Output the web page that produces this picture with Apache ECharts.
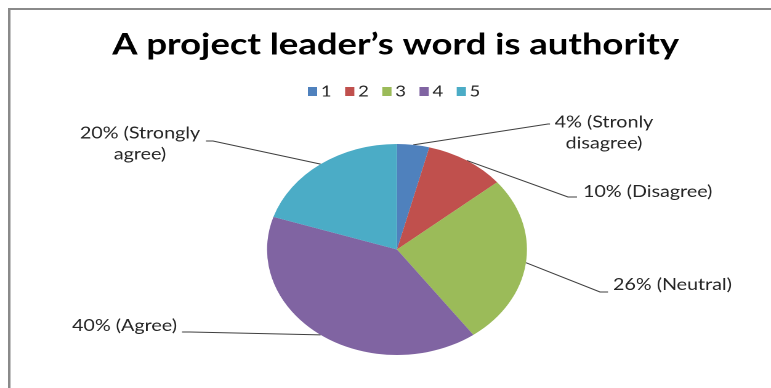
<!DOCTYPE html>
<html>
<head>
<meta charset="utf-8">
<script src="https://cdn.jsdelivr.net/npm/echarts@6/dist/echarts.min.js"></script>
<style>
  html, body { margin: 0; padding: 0; background: #fff; overflow: hidden; }
  /* the chart is laid out narrower and widened, which gives the oval pie */
  #chart { width: 626px; height: 388px; transform: scaleX(1.2316); transform-origin: 0 0; }
</style>
</head>
<body>
<div id="chart"></div>
<script>
// Survey answers on a 1–5 scale, share of respondents in percent
const categories = ['1', '2', '3', '4', '5'];
const shares = [4, 10, 26, 40, 20];
const answerNames = ['Stronly\ndisagree', 'Disagree', 'Neutral', 'Agree', 'Strongly\nagree'];
const sliceColors = ['#4F81BD', '#C0504D', '#9BBB59', '#8064A2', '#4BACC6'];

// horizontal stretch applied to the chart box
const SX = 771 / 626;

// Label spots and leader-line bends, in page pixels
const labelSpots = [
  { x: 604, y: 133, align: 'center', bend: [548, 124], end: [550, 124] },
  { x: 583, y: 192, align: 'left',   bend: [568, 197], end: [577, 197] },
  { x: 613, y: 285, align: 'left',   bend: [600, 292], end: [608, 292] },
  { x: 177, y: 326, align: 'right',  bend: [190, 332], end: [182, 332] },
  { x: 140, y: 144, align: 'center', bend: [213, 141], end: [206, 141] }
];

const PIE_CENTER = [397 / SX, 249.5];
const PIE_RADIUS = 105.5;

const chart = echarts.init(document.getElementById('chart'), null, {
  renderer: 'canvas', devicePixelRatio: 2
});

chart.setOption({
  animation: false,
  backgroundColor: '#ffffff',
  title: {
    text: 'A project leader\u2019s word is authority',
    left: 389.5 / SX,
    textAlign: 'center',
    top: 25,
    textStyle: { fontFamily: 'Lato', fontWeight: 'bold', fontSize: 29.6, color: '#000' }
  },
  legend: {
    data: categories,
    left: 245,
    top: 79,
    icon: 'rect',
    itemWidth: 7.5,
    itemHeight: 9,
    itemGap: 11,
    textStyle: { fontFamily: 'Lato', fontSize: 15, color: '#262626', padding: [0, 0, 0, -2] }
  },
  graphic: [{
    type: 'rect',
    shape: { x: 7.5, y: 9, width: 700, height: 420 },
    style: { fill: null, stroke: '#8a8a8a', lineWidth: 2 },
    silent: true
  }],
  series: [{
    type: 'pie',
    center: PIE_CENTER,
    radius: PIE_RADIUS,
    startAngle: 90,
    clockwise: true,
    avoidLabelOverlap: false,
    emphasis: { disabled: true },
    data: categories.map((name, i) => ({
      name: name,
      value: shares[i],
      itemStyle: { color: sliceColors[i] }
    })),
    itemStyle: { borderWidth: 0 },
    label: {
      show: true,
      position: 'outside',
      formatter: p => p.value + '% (' + answerNames[p.dataIndex] + ')',
      fontFamily: 'Lato',
      fontSize: 16,
      lineHeight: 21,
      color: '#262626'
    },
    labelLine: {
      show: true,
      smooth: false,
      lineStyle: { color: '#404040', width: 1 }
    },
    labelLayout: function (params) {
      const s = labelSpots[params.dataIndex];
      let anchor = params.labelLinePoints && params.labelLinePoints[0];
      if (!anchor) {
        let before = 0;
        for (let k = 0; k < params.dataIndex; k++) before += shares[k];
        const total = shares.reduce((a, b) => a + b, 0);
        const mid = (before + shares[params.dataIndex] / 2) / total * Math.PI * 2;
        anchor = [PIE_CENTER[0] + PIE_RADIUS * Math.sin(mid), PIE_CENTER[1] - PIE_RADIUS * Math.cos(mid)];
      }
      return {
        x: s.x / SX,
        y: s.y,
        align: s.align,
        verticalAlign: 'middle',
        labelLinePoints: [
          anchor,
          [s.bend[0] / SX, s.bend[1]],
          [s.end[0] / SX, s.end[1]]
        ]
      };
    }
  }]
});
</script>
</body>
</html>
